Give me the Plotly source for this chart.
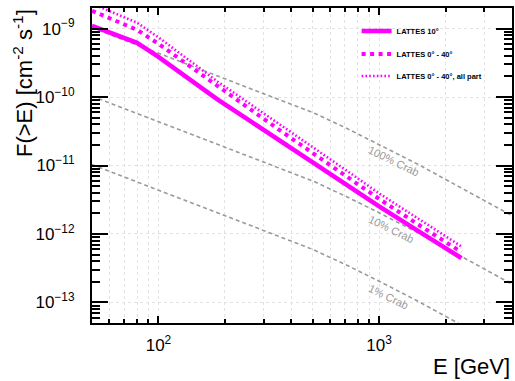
import plotly.graph_objects as go

# LATTES integral sensitivity curves (energy in GeV, flux in cm^-2 s^-1)
energy_lattes = [50, 65, 80, 100, 130, 185, 250, 350, 500, 700, 1000, 1500, 2360]
flux_10deg = [1.10e-9, 8.0e-10, 6.2e-10, 3.87e-10, 2.12e-10, 9.24e-11, 4.88e-11,
              2.37e-11, 1.11e-11, 5.38e-12, 2.52e-12, 1.11e-12, 4.44e-13]
flux_0_40 = [1.82e-9, 1.27e-9, 9.6e-10, 6.0e-10, 3.28e-10, 1.42e-10, 7.2e-11,
             3.37e-11, 1.52e-11, 7.2e-12, 3.25e-12, 1.38e-12, 5.43e-13]
flux_0_40_all = [2.31e-9, 1.60e-9, 1.22e-9, 7.46e-10, 4.01e-10, 1.69e-10, 8.65e-11,
                 4.13e-11, 1.87e-11, 8.77e-12, 3.91e-12, 1.66e-12, 6.56e-13]

# Crab Nebula integral flux references
energy_crab = [50, 70, 100, 140, 200, 280, 400, 500, 700, 1000, 1500, 2200, 4000]
crab_100 = [1.03e-9, 6.8e-10, 4.4e-10, 2.88e-10, 1.88e-10, 1.22e-10, 7.9e-11,
            5.95e-11, 3.6e-11, 2.04e-11, 1.04e-11, 5.3e-12, 1.85e-12]
crab_10 = [1.03e-10, 6.8e-11, 4.4e-11, 2.88e-11, 1.88e-11, 1.22e-11, 7.9e-12,
           5.95e-12, 3.6e-12, 2.04e-12, 1.04e-12, 5.3e-13, 1.85e-13]
crab_1 = [1.03e-11, 6.8e-12, 4.4e-12, 2.88e-12, 1.88e-12, 1.22e-12, 7.9e-13,
          5.95e-13, 3.6e-13, 2.04e-13, 1.04e-13, 5.3e-14, 1.85e-14]

crab_labels = ["100% Crab", "10% Crab", "1% Crab"]
series_names = ["LATTES 10°", "LATTES 0° - 40°", "LATTES 0° - 40°, all part"]

# Axis ticks
x_tick_vals = [100, 1000]
x_tick_text = ["10<sup>2</sup>", "10<sup>3</sup>"]
y_tick_vals = [1e-13, 1e-12, 1e-11, 1e-10, 1e-9]
y_tick_text = ["10<sup>−13</sup>", "10<sup>−12</sup>", "10<sup>−11</sup>",
               "10<sup>−10</sup>", "10<sup>−9</sup>"]

x_minor = [m * 10 ** d for d in (1, 2, 3) for m in range(2, 10) if m * 10 ** d != 100]
y_minor = [m * 10.0 ** d for d in range(-14, -8) for m in range(2, 10)]

FONT = "Liberation Sans, Arial, sans-serif"
MAGENTA = "#ff00ff"
GREY = "#9a9a9a"
GRID = "#e2e2e2"

fig = go.Figure()

for flux in (crab_100, crab_10, crab_1):
    fig.add_trace(go.Scatter(
        x=energy_crab, y=flux, mode="lines", showlegend=False, hoverinfo="skip",
        line=dict(color=GREY, width=1.6, dash="4px,3px"),
    ))

styles = [
    dict(color=MAGENTA, width=4.5),
    dict(color=MAGENTA, width=4, dash="4px,4.5px"),
    dict(color=MAGENTA, width=2.6, dash="1.6px,2.2px"),
]
legend_ids = ["legend", "legend2", "legend3"]
for name, flux, st, lg in zip(series_names,
                              (flux_10deg, flux_0_40, flux_0_40_all),
                              styles, legend_ids):
    fig.add_trace(go.Scatter(
        x=energy_lattes, y=flux, mode="lines", name="<b>%s</b>" % name,
        legend=lg, line=st,
    ))

label_pos = [(3.066, -10.941), (3.055, -11.922), (3.044, -12.924)]
for text, (lx, ly) in zip(crab_labels, label_pos):
    fig.add_annotation(x=lx, y=ly, xref="x", yref="y", text=text, showarrow=False,
                       textangle=26, font=dict(family=FONT, size=11, color=GREY))

# Axis titles
fig.add_annotation(x=0, y=1, xref="paper", yref="paper", xshift=-69, yshift=1,
                   xanchor="center", yanchor="top", textangle=-90, showarrow=False,
                   text="F(>E) [cm<sup>-2</sup> s<sup>-1</sup>]",
                   font=dict(family=FONT, size=22, color="black"))
fig.add_annotation(x=1, y=0, xref="paper", yref="paper", xanchor="right",
                   yanchor="middle", yshift=-43, showarrow=False, text="E [GeV]",
                   font=dict(family=FONT, size=22, color="black"))

axis_common = dict(
    type="log", showline=True, linecolor="black", linewidth=2, mirror="allticks",
    ticks="inside", tickcolor="black", tickwidth=2,
    tickfont=dict(family=FONT, size=17, color="black"),
    gridcolor=GRID, griddash="dot", gridwidth=1, zeroline=False,
)

fig.update_xaxes(
    **axis_common, range=[1.69897, 3.60206], tickmode="array",
    tickvals=x_tick_vals, ticktext=x_tick_text, ticklen=7, ticklabelstandoff=6,
    showgrid=True,
    minor=dict(tickmode="array", tickvals=x_minor, ticks="inside", ticklen=4,
               tickwidth=1.5, tickcolor="black", showgrid=True,
               gridcolor=GRID, griddash="dot", gridwidth=1),
)
fig.update_yaxes(
    **axis_common, range=[-13.30103, -8.69897], tickmode="array",
    tickvals=y_tick_vals, ticktext=y_tick_text, ticklen=16, ticklabelstandoff=12,
    showgrid=True,
    minor=dict(tickmode="array", tickvals=y_minor, ticks="inside", ticklen=8,
               tickwidth=1.5, tickcolor="black", showgrid=False),
)

legend_style = dict(x=0.63, xanchor="left", yanchor="middle",
                    bgcolor="rgba(0,0,0,0)", itemwidth=30,
                    font=dict(family=FONT, size=7.5, color="black"))
fig.update_layout(
    width=515, height=381,
    margin=dict(l=92, r=1, t=8, b=58),
    paper_bgcolor="white", plot_bgcolor="white",
    showlegend=True,
    legend=dict(legend_style, y=0.927),
    legend2=dict(legend_style, y=0.854),
    legend3=dict(legend_style, y=0.784),
)

fig.write_html("out.html")
